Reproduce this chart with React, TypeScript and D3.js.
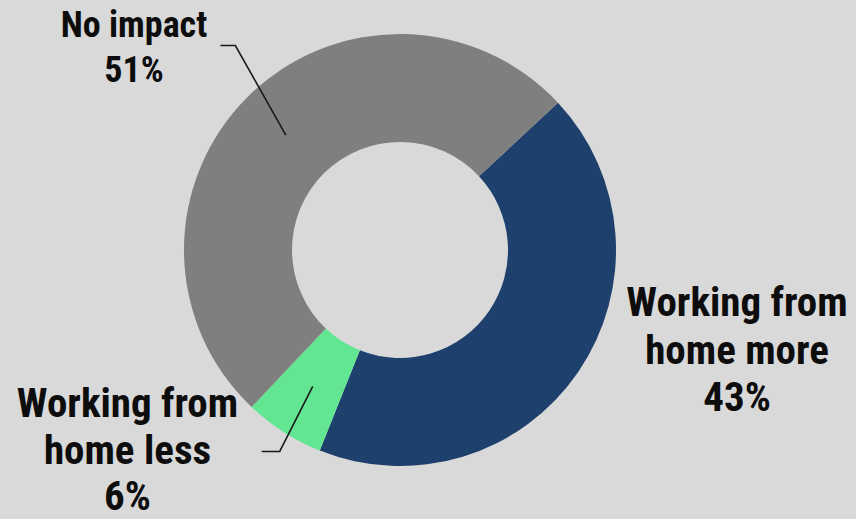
import React from "react";
import * as d3 from "d3";

const categories = ["Working from home more", "Working from home less", "No impact"];
const values = [43, 6, 51];
const colors = ["#1e406c", "#63e691", "#7f7f7f"];
const labelLines = [
  ["Working from", "home more", "43%"],
  ["Working from", "home less", "6%"],
  ["No impact", "51%"],
];

const W = 856;
const H = 519;
const cx = 400;
const cy = 250;
const outerR = 216;
const innerR = 108;
const startDeg = 47;

// label layout (style): anchor centre x, first baseline y, line gap, font size
const labelLayout = [
  { x: 737, y: 316, gap: 47.5, size: 41, leader: null as null | { dx: number; dy: number; hx: number } },
  { x: 127.5, y: 417, gap: 46.5, size: 41, leader: { dx: -33, dy: 65, hx: -18 } },
  { x: 134, y: 37, gap: 44.5, size: 36, leader: { dx: -50.5, dy: -89.5, hx: -15 } },
];

export default function App() {
  const pie = d3
    .pie<number>()
    .sort(null)
    .value((d) => d)
    .startAngle((startDeg * Math.PI) / 180)
    .endAngle((startDeg * Math.PI) / 180 + 2 * Math.PI);
  const arcs = pie(values);
  const arc = d3.arc<d3.PieArcDatum<number>>().innerRadius(innerR).outerRadius(outerR);

  return (
    <svg
      width={W}
      height={H}
      style={{ position: "absolute", left: 0, top: 0, background: "#d9d9d9" }}
    >
      <rect x={0} y={0} width={W} height={H} fill="#d9d9d9" />
      <g transform={`translate(${cx},${cy})`}>
        {arcs.map((a, i) => (
          <path key={categories[i]} d={arc(a) || ""} fill={colors[i]} />
        ))}
        {arcs.map((a, i) => {
          const lay = labelLayout[i];
          if (!lay.leader) return null;
          const [mx, my] = arc.centroid(a);
          const ex = mx + lay.leader.dx;
          const ey = my + lay.leader.dy;
          return (
            <polyline
              key={"l" + i}
              points={`${mx},${my} ${ex},${ey} ${ex + lay.leader.hx},${ey}`}
              fill="none"
              stroke="#1a1a1a"
              strokeWidth={1.6}
            />
          );
        })}
      </g>
      {labelLines.map((lines, i) => {
        const lay = labelLayout[i];
        return (
          <text
            key={"t" + i}
            textAnchor="middle"
            fontFamily="'Liberation Sans Narrow', 'Arial Narrow', 'Roboto Condensed', sans-serif"
            fontWeight="bold"
            fontSize={lay.size}
            fill="#0d0d0d"
          >
            {lines.map((ln, j) => (
              <tspan key={j} x={lay.x} y={lay.y + j * lay.gap}>
                {ln}
              </tspan>
            ))}
          </text>
        );
      })}
    </svg>
  );
}
